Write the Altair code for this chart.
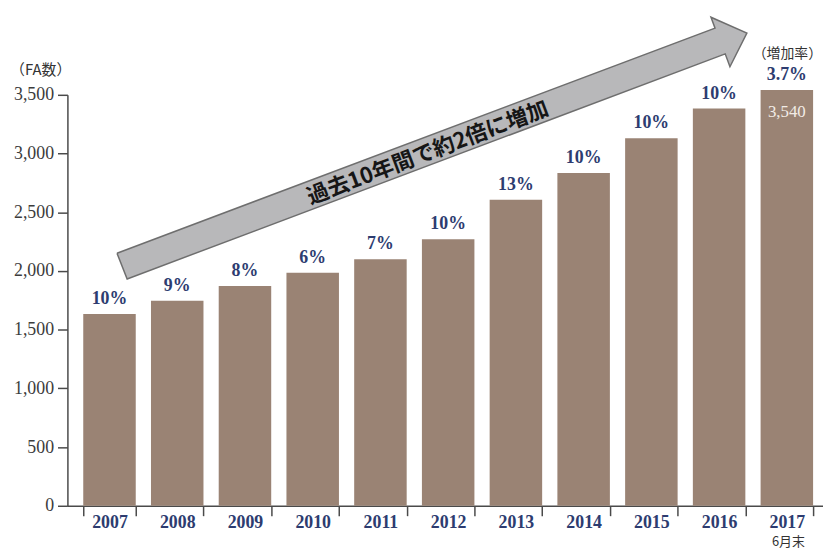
import altair as alt
import pandas as pd

# ---- data ----
years = ["2007", "2008", "2009", "2010", "2011", "2012", "2013", "2014", "2015", "2016", "2017"]
fa_counts = [1633, 1746, 1872, 1985, 2100, 2269, 2607, 2835, 3131, 3384, 3540]
growth_labels = ["10%", "9%", "8%", "6%", "7%", "10%", "13%", "10%", "10%", "10%", "3.7%"]

# arrow annotation outline, in (year, FA count) data units
arrow_x = [2007.11, 2015.94, 2015.88, 2016.41, 2016.16, 2016.09, 2007.26, 2007.11]
arrow_y = [2151, 4068, 4161, 4026, 3739, 3849, 1932, 2151]
arrow_text = ["過去10年間で約2倍に増加"]
arrow_text_x = [2011.70]
arrow_text_y = [3005]

y_ticks = [0, 500, 1000, 1500, 2000, 2500, 3000, 3500]
unit_label = ["（FA数）"]
rate_label = ["（増加率）"]
month_note = ["6月末"]

df = pd.DataFrame({"year": years, "count": fa_counts, "growth": growth_labels})
last_df = pd.DataFrame({"year": years[-1:], "count": fa_counts[-1:]})
arrow_df = pd.DataFrame({"ax": arrow_x, "ay": arrow_y, "k": list(range(len(arrow_x)))})
arrow_text_df = pd.DataFrame({"ax": arrow_text_x, "ay": arrow_text_y, "t": arrow_text})

NAVY = "#2d3c70"
BAR = "#9a8374"
AXIS = "#4a4a4a"
SERIF = "Liberation Serif"
CJK = "Noto Sans CJK JP"

xband = alt.Scale(paddingInner=0.225, paddingOuter=0.19, align=0.615)
yscale = alt.Scale(domain=[0, 3500], nice=False, zero=True)
xq = alt.Scale(domain=[2006.378, 2017.534], nice=False, zero=False)

x_axis = alt.Axis(title=None, labelAngle=0, tickBand="extent", tickSize=10,
                  tickWidth=1.5, tickColor=AXIS, domainColor=AXIS,
                  domainWidth=1.5, labelFont=SERIF, labelFontWeight="bold",
                  labelFontSize=18, labelColor=NAVY, labelPadding=-2, grid=False)
y_axis = alt.Axis(title=None, values=y_ticks, format=",d", tickSize=10,
                  tickWidth=1.5, tickColor=AXIS, domainColor=AXIS,
                  domainWidth=1.5, labelFont=SERIF, labelFontSize=18,
                  labelColor="#3c3c3c", labelPadding=4, grid=False)


def xb():
    return alt.X("year:N", sort=None, scale=xband, axis=x_axis)


def yb(field):
    return alt.Y(field, scale=yscale, axis=y_axis)


bars = alt.Chart(df).mark_bar(color=BAR).encode(x=xb(), y=yb("count:Q"))

pct = alt.Chart(df).mark_text(font=SERIF, fontWeight="bold", fontSize=18, color=NAVY,
                              baseline="alphabetic", dy=-10).encode(
    x=xb(), y=yb("count:Q"), text="growth:N")

last_val = alt.Chart(last_df).mark_text(font=SERIF, fontSize=17, color="#f2ece6",
                                        baseline="middle", dy=22).encode(
    x=xb(), y=yb("count:Q"), text=alt.Text("count:Q", format=",d"))

bar_layer = alt.layer(bars, pct, last_val)

arrow = alt.Chart(arrow_df).mark_line(fill="#b8b8ba", stroke="#6e6e6e", strokeWidth=1.5,
                                      strokeJoin="miter").encode(
    x=alt.X("ax:Q", scale=xq, axis=None),
    y=yb("ay:Q"),
    order="k:Q",
)

arrow_label = alt.Chart(arrow_text_df).mark_text(font=CJK, fontWeight="bold", fontSize=22,
                                                 color="#161616", angle=339.4,
                                                 align="center", baseline="middle").encode(
    x=alt.X("ax:Q", scale=xq, axis=None),
    y=yb("ay:Q"),
    text="t:N",
)

arrow_layer = alt.layer(arrow, arrow_label)


def note(texts, px, py, size):
    return alt.Chart(pd.DataFrame({"t": texts})).mark_text(
        font=CJK, fontSize=size, color="#333333", align="center", baseline="middle"
    ).encode(x=alt.value(px), y=alt.value(py), text="t:N")


notes = alt.layer(
    note(unit_label, -27, -25, 15),
    note(rate_label, 727, -41, 14),
    note(month_note, 728, 452, 13),
)

chart = alt.layer(bar_layer, arrow_layer, notes).resolve_scale(x="independent").properties(
    width=763, height=415,
    autosize=alt.AutoSizeParams(type="none"),
    padding={"left": 60, "top": 85, "right": 0, "bottom": 43},
    background="white",
).configure_view(stroke=None)

chart.save("out.html", embed_options={"renderer": "svg", "actions": False})
